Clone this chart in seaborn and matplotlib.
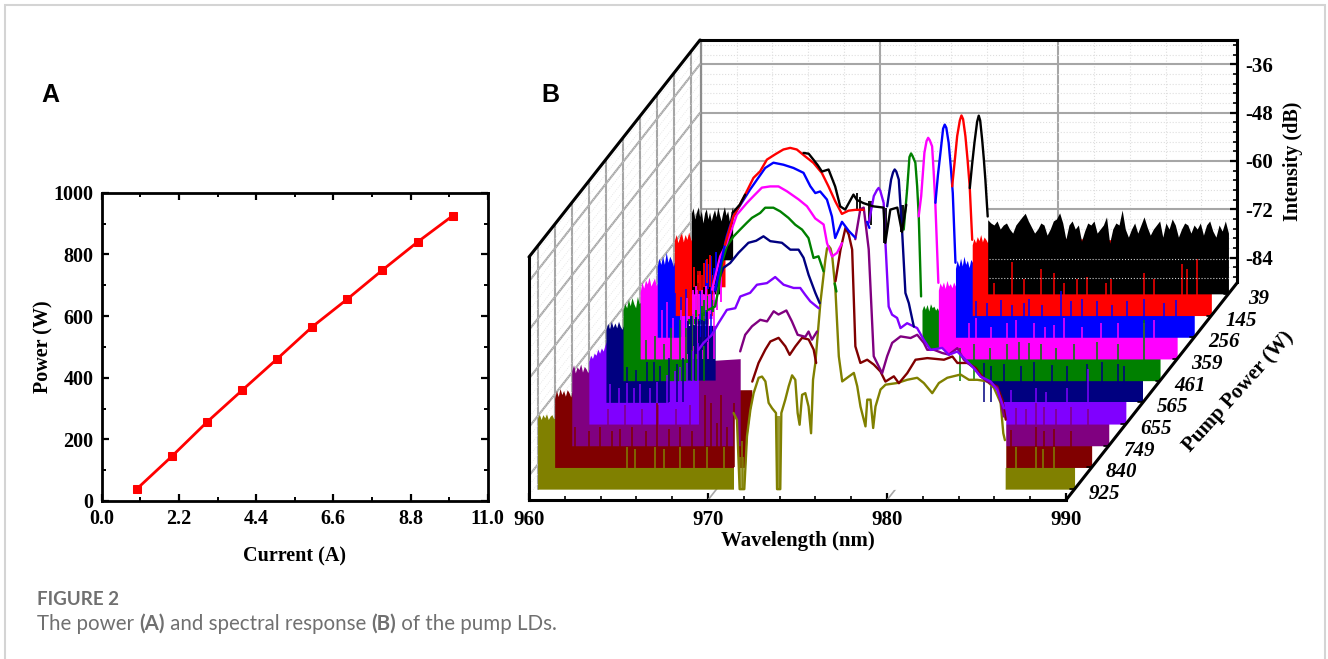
import numpy as np
import pandas as pd
import matplotlib
matplotlib.use('Agg')
import matplotlib.pyplot as plt
from matplotlib.patches import Rectangle
from matplotlib.ticker import MultipleLocator
import seaborn as sns

# panel A
current = [1, 2, 3, 4, 5, 6, 7, 8, 9, 10]
power = [39, 145, 256, 359, 461, 565, 655, 749, 840, 925]

# panel B, back to front. nan = line hidden behind the other traces
names = ['black', 'red', 'blue', 'magenta', 'green', 'navy', 'purple', 'dmag', 'dred', 'olive']
pump_labels = ['39', '145', '256', '359', '461', '565', '655', '749', '840', '925']
n = np.nan

black_wl = [962.3, 962.7, 963.0, n, 966.26, 966.55, 966.82, 967.05, 967.29, 967.66, 968.03, 968.31, 968.59, 969.05, 969.24, 969.61, 970.17, 970.73, 970.83, 971.11, 971.5, 971.76, 972.0, n, 975.55, 975.68, 975.81, 975.96, 976.05, 976.13, 976.24, 976.33, 976.42, 976.55]
black_db = [-70, -68, -65.5, n, -55.2, -55.4, -56.9, -58.2, -59.8, -59.3, -63.5, -68.4, -69.2, -65.5, -66.8, -67.6, -68.4, -68.7, -77.4, -69.2, -68.7, -74.7, -68, n, -63.9, -58, -52.7, -47.5, -46, -47.2, -51.9, -56.5, -61.8, -70.9]
red_wl = [962.83, 963.3, 963.67, 964.05, 964.42, 964.79, 965.17, 965.63, 966.09, 966.47, 966.84, 967.31, 967.77, 968.24, 968.61, 968.99, 969.36, 969.73, 970.11, 970.57, n, 975.52, 975.66, 975.8, 975.95, 976.04, 976.13, 976.26, 976.38, 976.5, 976.64]
red_db = [-72.5, -65.5, -62.6, -59.3, -56, -54.4, -51.5, -50.2, -49, -48.6, -49, -50.7, -52.3, -54.8, -58.1, -61.8, -64.9, -64.1, -63.9, -63.9, n, -58.1, -52, -45.7, -41.8, -40.6, -41.5, -45.7, -51.5, -58.1, -71.3]
blue_wl = [963.23, 963.88, 964.25, 964.72, 965.19, 965.65, 966.03, 966.49, 967.05, 967.61, 968.17, 968.55, 968.83, 969.1, 969.48, 969.76, 969.94, 970.32, 970.69, 971.06, n, 971.72, 971.85, n, 975.54, 975.68, 975.82, 975.97, 976.06, 976.15, 976.28, 976.4, 976.51, 976.66]
blue_db = [-78.3, -65.1, -60.1, -56.8, -53.5, -50.6, -48.2, -46.9, -47.4, -48.2, -49.4, -52.7, -54.4, -54, -56, -60.2, -65.5, -61.5, -63.7, -65.4, n, -61.5, -63, n, -56.8, -50, -44.5, -38.5, -37.5, -38.3, -42, -48, -54.4, -71.6]
magenta_wl = [964.02, 964.47, 964.84, 965.4, 965.96, 966.33, 966.8, 967.26, 967.73, 968.2, 968.85, 969.32, 969.78, 970.25, 970.44, 970.72, 971.0, 971.28, n, 975.56, 975.7, 975.88, 976.0, 976.09, 976.18, 976.31, 976.4, 976.49, 976.66]
magenta_db = [-72.9, -64.7, -61.4, -54.4, -51.5, -49.8, -47.7, -47.4, -47.4, -48.6, -50.6, -52.3, -55.3, -56.8, -61.4, -64.7, -63.8, -61.4, n, -54.8, -49.8, -39.1, -36.2, -35.4, -36, -37.5, -44, -51.5, -71.2]
green_wl = [964.77, 965.14, 965.33, 965.52, 965.8, 966.17, 966.54, 966.92, 967.2, 967.66, 967.94, 968.4, 968.78, 969.24, 969.62, 970.0, 970.36, 970.64, 970.92, 971.2, n, 971.82, 971.92, n, 975.68, 975.87, 976.0, 976.09, 976.18, 976.33, 976.43, 976.52, 976.65]
green_db = [-72.5, -71.7, -67.5, -60.9, -56.8, -54.4, -52.7, -51, -49.8, -48.6, -47.3, -47.3, -48.2, -49.8, -51.5, -52.7, -54.8, -59.7, -59.3, -63, n, -66, -68, n, -52.7, -42.8, -34.8, -33.9, -34.6, -36.2, -42, -49.4, -69.2]
navy_wl = [966.1, 966.28, 966.56, 966.94, 967.4, 967.96, 968.39, 968.8, 969.18, 969.83, 970.3, 970.76, 971.04, 971.32, 971.7, 971.94, n, 975.71, 975.93, 976.04, 976.13, 976.22, 976.36, 976.55, 976.73, 976.92, 977.2]
navy_db = [-62.6, -60.1, -56.8, -55.6, -53.1, -50.6, -50.1, -49, -50.2, -50.6, -52.3, -52.3, -54.3, -58.5, -63, -65.5, n, -41.6, -35, -33.2, -32.5, -33, -35, -48.1, -63, -65.5, -71.3]
purple_wl = [966.12, 966.4, 966.87, 967.24, 967.71, 968.18, 968.46, 969.01, 969.39, 969.95, 970.41, 970.88, 971.44, 971.81, 972.09, 972.37, 972.84, n, 975.64, 975.92, 976.1, 976.19, 976.28, 976.47, 976.57, 976.75, 976.94, 977.22, 977.41, 977.78, 978.34, 978.71, 979.09, 979.74, 980.11, 980.58, 980.95, 981.51, 981.89, 982.45, 982.82, 983.19]
purple_db = [-71.7, -70, -68, -65.1, -61.8, -61.4, -58.5, -57.6, -55.6, -55.2, -53.7, -55.6, -56.4, -56.4, -58.1, -59.7, -61.4, n, -40.3, -33.7, -32.2, -31.7, -32.4, -35.4, -45.3, -61, -63, -63.8, -66.3, -65.1, -66.3, -69.2, -71.7, -71.2, -72.9, -72.1, -73.7, -76.2, -78.3, -79.5, -81.6, -86.1]
dmag_wl = [969.41, 969.69, 970.07, 970.53, 970.91, 971.28, 971.55, 971.99, 972.3, 972.62, 973.05, 973.23, 973.42, 973.7, n, 975.84, 976.12, 976.31, 976.59, 976.87, 977.06, 977.34, 977.62, 977.9, 978.37, 978.93, 979.3, 979.67, 979.86, 980.23, 980.7, 981.07, 981.54, 981.91, 982.47, 982.84, 983.22, 983.78, 983.96, 984.15]
dmag_db = [-66.7, -62.6, -60.5, -58.9, -59.3, -56.8, -57.6, -56.6, -59.3, -62.6, -63.1, -61.8, -63.8, -61.8, n, -39, -31.6, -31.2, -41.5, -67.9, -69.6, -72.1, -67.9, -64.6, -63, -63.4, -62.6, -64.6, -66.3, -66.3, -67.1, -67.5, -65.9, -68.8, -70.8, -72.9, -74.1, -75.7, -79.1, -82.8]
dred_wl = [971.04, 971.39, 971.77, 972.05, 972.51, 972.89, 973.13, 973.45, 973.82, 974.19, 974.47, 974.61, n, 975.69, 975.97, 976.25, 976.43, 976.62, 976.8, 977.08, 977.46, 977.83, 978.2, 978.48, 978.95, 979.23, 979.7, 980.16, 980.82, 981.75, 982.22, 982.5, 983.06, 983.52, 983.8, 984.17, 984.73, 985.01, 985.2]
dred_db = [-68.8, -64.2, -60.9, -58.9, -58, -60.1, -62.2, -60.1, -58, -58.4, -60.9, -64.2, n, -44, -36.2, -30.8, -32.5, -36.2, -60.1, -64.2, -63.4, -64.6, -66.3, -68.8, -67.5, -69.2, -66.7, -63.4, -63, -63.4, -62.6, -64.2, -64.2, -65.4, -67.1, -68.8, -70, -73.3, -78.2]
olive_wl = [970.95, 971.14, 971.29, 971.55, 971.7, 971.89, 972.07, 972.35, 972.54, 972.73, 972.91, 973.1, 973.32, 973.38, 973.56, 973.62, 973.84, 974.03, 974.22, 974.4, 974.53, 974.64, 974.78, 974.96, 975.14, 975.28, 975.39, 975.52, 975.8, 976.08, 976.17, 976.27, 976.37, 976.46, 976.64, 976.83, 977.02, 977.39, 977.67, 977.86, 978.04, 978.32, 978.42, 978.6, 978.75, 978.88, 979.16, 979.44, 980.09, 980.65, 981.21, 981.58, 982.05, 982.42, 982.89, 983.63, 984.1, 984.57, 985.13, 985.5, 985.87, 986.02, 986.11]
olive_db = [-71.2, -72.9, -90, -90, -77, -70.4, -66.3, -62.5, -62.2, -63.4, -68.7, -70, -71.2, -90, -90, -71.2, -67.9, -64.6, -61.9, -63, -71.2, -74.1, -66.7, -66.3, -69.6, -76.2, -63, -58.8, -44, -33.3, -30.6, -30, -30.6, -32.4, -40.7, -57.2, -63.4, -62.2, -61.3, -64.6, -69.6, -74.5, -67.9, -67.9, -74.9, -69.6, -65.4, -64.2, -63.8, -63, -62.5, -63.8, -66.3, -63.8, -62.5, -61.7, -63, -63, -63.4, -65, -68.7, -76.2, -77.9]

# noise floor tops, first nm of each left and right block as read, then one tail level
black_left = [-70, -68.8, -71.5, -70, -68.5, -71, -69.6, -72.5, -70, -69, -71.5, -69.8, -72, -70.4, -69.2, -71, -68.6, -70.5, -72, -70, -68.5, -70.6, -69.5, -72, -70, -68.4]
red_left = [-71.5, -70, -72, -70.5, -69.6, -71.8, -70, -71.2, -69.4, -71, -72]
blue_left = [-72.5, -70.5, -72, -70, -72, -69, -71.5, -70, -71, -72.5, -70.5]
magenta_left = [-73.5, -71, -72.5, -70.5, -71.5, -69.8, -72, -71, -70, -72, -71]
green_left = [-72.5, -71, -72, -70, -71.5, -69.5, -71, -72, -69.2, -71, -70.5]
navy_left = [-72, -70.5, -71.8, -70, -71.5, -70.4, -71.6, -70, -71.2, -72, -70.6]
purple_left = [-74.5, -73, -73.8, -72.5, -73, -71.5, -72.5, -71.2, -72, -70.5, -69.5]
dmag_left = [-71.5, -70, -72, -70.5, -71.2, -69.8, -71.8, -70.4, -71, -72, -70.8]
dred_left = [-73, -71, -72.5, -70.5, -72, -71, -72.4, -70.8, -71.5, -72.6, -71]
olive_left = [-72.5, -71.5, -72.8, -71.6, -72.4, -71.4, -72.8, -72, -71.6, -72.6, -72.4]
left_tail = [-70, -71, -71, -71, -71, -71, -71, -68.5, -70.8, -72]
left_end = [962.3, 962.83, 963.23, 964.02, 964.77, 966.1, 966.12, 969.41, 971.04, 970.95]
lift_wl = [961.6, 961.04, 961.27, 962.62, 963.6, 963.47, 966.12, 969.41, 971.04, 970.95]
lift_db = [-81.6, -82.9, -78.3, -80, -76, -84.5, -90, -90, -90, -90]

black_right = [-71.7, -72.5, -73, -72, -74, -73, -72.5, -74, -75, -73, -72, -71, -70.1, -72, -73.5, -75, -74, -72.5, -73, -75.5, -74, -72, -71.5, -70, -72.5, -76.5, -73, -72, -74, -73, -77, -74.5, -72.5, -73, -72, -75, -74, -73, -71, -77.5, -74, -72.5, -73, -69.3, -74, -76, -74, -72.5, -75, -73, -71, -73.5, -75.5, -74, -73, -72, -76, -72.5, -74, -71.5, -73, -76, -74, -72.5, -73, -75, -73, -74, -72.5, -75.5, -73, -72, -74.5, -76, -73, -74.5, -72, -75]
red_right = [-72.5, -71, -72, -70.5, -71.5, -70, -71.8, -70.6, -71.2, -72, -70.4]
blue_right = [-73, -71, -72.5, -70.5, -72.4, -70, -72, -71, -72.8, -70.8, -71.5]
magenta_right = [-73, -71.2, -72.2, -71, -72.6, -70.6, -72, -71.4, -72.4, -71, -72]
green_right = [-72.6, -71.4, -72.4, -71.2, -72.8, -71, -72, -71.6, -72.6, -72, -73]
navy_right = [-72, -72, -72, -72, -72, -72]
purple_right = [-74, -74, -74, -74, -74, -74]
dmag_right = [-78, -77, -78, -77, -78, -77]
dred_right = [-76, -76, -76, -76, -76, -76]
olive_right = [-76, -75, -76, -75, -76, -75]
right_tail = [-74, -72, -72, -72, -72, -72, -73, -75, -75, -75]
right_start = [976.55, 976.64, 976.66, 976.66, 976.7, 981.4, 982.9, 984.15, 985.2, 986.11]
mask_from = [None, None, None, None, None, 975.71, 975.64, 970.07, 971.04, 970.95]

# narrow spikes of each trace that stand above its own band
black_spike_wl = []
black_spike_db = []
red_spike_wl = [977.84, 978.87, 979.52, 980.46, 981.2, 981.76, 982.51, 983.07, 984.09, 984.37, 986.24, 986.8, 988.38, 988.66, 989.22, 961.3, 961.55, 961.8, 962.1]
red_spike_db = [-82, -76.9, -81, -78.6, -79.4, -82, -81, -80.4, -82, -81, -79.6, -81, -77.2, -78.6, -76, -79, -80, -78, -80]
blue_spike_wl = [977.78, 978.43, 979.18, 979.8, 980.48, 980.76, 981.5, 982.54, 983.1, 983.75, 984.59, 985.4, 986.27, 987.2, 988.32, 988.97, 960.7, 961.0, 961.3, 961.6, 962.0, 962.4, 962.7, 963.0]
blue_spike_db = [-81, -81.5, -80.8, -82, -81.5, -80.5, -82, -78.7, -81, -80.5, -81, -82, -81, -80.6, -81.5, -80.8, -81, -79, -80, -78, -81, -78, -72, -74]
magenta_spike_wl = [978.36, 978.74, 979.6, 980.51, 980.98, 982.0, 982.6, 983.12, 983.68, 984.7, 985.73, 986.67, 988.16, 988.72, 961.2, 961.5, 961.85, 962.3, 962.6, 962.95, 963.2, 963.5, 963.8, 964.1]
magenta_spike_db = [-81, -80, -82, -81.2, -80.5, -81, -82, -81.5, -80, -82, -81, -81.2, -81, -80.5, -78, -76, -80, -78, -75, -74, -73, -74, -75, -76]
green_spike_wl = [978.8, 979.6, 980.5, 981.47, 982.12, 982.68, 983.34, 984.2, 985.2, 986.5, 987.63, 989.08, 960.9, 961.3, 961.8, 962.3, 962.7, 963.2, 963.5, 963.85, 964.1, 964.5]
green_spike_db = [-82, -81, -82, -81, -80.5, -80.7, -81, -82, -81, -80.5, -81, -75, -76, -80, -79, -81, -77, -75, -77, -74, -72, -73]
navy_spike_wl = [981.11, 981.49, 982.23, 983.17, 983.91, 984.94, 985.78, 986.9, 987.74, 988.58, 988.95, 960.75, 961.16, 961.7, 962.28, 962.7, 963.03, 963.5, 963.96, 964.33]
navy_spike_db = [-80.3, -81, -80.5, -81, -80, -80.8, -81, -80.5, -80, -80.6, -81, -80, -81.2, -82, -80, -80, -81, -79, -80.5, -79]
purple_spike_wl = [983.57, 984.97, 985.53, 986.74, 987.86, 961.2, 961.7, 962.11, 962.5, 962.86, 963.4, 963.79, 964.35, 964.8, 965.1, 965.47, 965.84, 966.12]
purple_spike_db = [-81.6, -81, -82, -81.2, -76.5, -80, -81, -79.8, -81, -80, -81, -79.5, -78, -77, -76, -75, -72, -70]
dmag_spike_wl = [984.81, 985.37, 985.93, 986.39, 987.05, 987.88, 988.82, 962.0, 963.0, 963.9, 964.8, 965.8, 966.6, 967.5, 968.2]
dmag_spike_db = [-80.7, -81, -79.5, -80.5, -81, -80.5, -81, -81, -80, -81, -80, -81, -80, -81, -78]
dred_spike_wl = [985.48, 986.88, 987.34, 987.9, 988.84, 961.14, 961.9, 962.54, 963.2, 963.66, 964.31, 965.1, 965.71, 966.4, 967.02, 967.7, 968.41, 968.75, 969.07, 969.3, 969.63, 970.0]
dred_spike_db = [-80.7, -80, -81, -80.5, -81, -80, -81, -79.9, -81, -80.5, -80, -81, -74.1, -80.5, -80, -81, -72, -74, -79, -72, -80, -74]
olive_spike_wl = [986.72, 987.84, 988.21, 988.86, 964.99, 965.45, 966.57, 967.04, 967.97, 968.72, 969.46, 970.4, 971.3, 971.4, 971.5, 973.4, 973.5]
olive_spike_db = [-79.5, -79.5, -80, -79.5, -79.5, -80, -79.5, -80, -79.5, -80, -79.5, -79.5, -82, -78, -82, -72, -72]

# parts of the left blocks and valleys where a trace floats off its baseline
black_mix_wl = [969.9, 970.04, 970.78, 970.88, 971.72, 971.82, 969.25, 969.4]
black_mix_low = [-72, -73, -77.4, -76, -74.7, -74, -69, -70]
black_mix_high = [-67, -67, -68.7, -68.7, -68, -68, -65, -66]
red_mix_wl = [961.1, 961.3, 961.45, 961.65, 961.8, 962.0]
red_mix_low = [-83, -82, -84, -83, -82, -83]
red_mix_high = [-78, -80, -79, -77, -76, -75]
blue_mix_wl = [962.7, 962.85, 963.0, 963.15, 963.3]
blue_mix_low = [-77, -78, -76, -77, -74]
blue_mix_high = [-71, -72, -70, -73, -69]
magenta_mix_wl = [962.95, 963.1, 963.3, 963.45, 963.7, 963.9, 964.1, 964.3, 964.5]
magenta_mix_low = [-79, -78, -79, -77, -78, -79, -77, -78, -76]
magenta_mix_high = [-73, -72, -74, -73, -72, -74, -72, -71, -69]
green_mix_wl = [964.1, 964.25, 964.4, 964.55, 964.7, 965.0, 965.1]
green_mix_low = [-74, -73, -75, -74, -73, -73, -72]
green_mix_high = [-69, -70, -68, -70, -69, -70, -70]
navy_mix_wl = [964.6, 964.75, 964.9, 965.05, 965.2, 965.35, 965.5, 965.65]
navy_mix_low = [-78, -77, -76, -78, -75, -77, -76, -75]
navy_mix_high = [-70, -68.8, -71, -69, -70, -68, -70, -66]

colors = ['#000000', '#ff0000', '#0000ff', '#ff00ff', '#008000', '#000080', '#8000ff', '#800080', '#800000', '#808000']

sns.set_style('white')
plt.rcParams['font.family'] = ['Liberation Serif', 'DejaVu Sans']
plt.rcParams['font.weight'] = 'bold'
plt.rcParams['axes.labelweight'] = 'bold'
plt.rcParams['axes.unicode_minus'] = False
plt.rcParams['text.color'] = 'black'
plt.rcParams['axes.labelcolor'] = 'black'
plt.rcParams['xtick.color'] = 'black'
plt.rcParams['ytick.color'] = 'black'

W, H = 1328, 659
fig = plt.figure(figsize=(W / 100, H / 100), dpi=100)
fig.add_artist(Rectangle((4.5 / W, -0.05), 1320.5 / W, 1.05 - 4.5 / H, transform=fig.transFigure,
                         fc='white', ec='#d4d4d4', lw=1.5, zorder=-1))


def box(left, top, right, bottom):
    return [left / W, 1 - bottom / H, (right - left) / W, (bottom - top) / H]


# A
ax_a = fig.add_axes(box(101.7, 192.7, 487.7, 501))
ax_a.patch.set_alpha(0)
sns.lineplot(x=current, y=power, ax=ax_a, color='#ff0000', lw=2, marker='s', ms=5.5, mec='#ff0000')
ax_a.set_xlim(0, 11)
ax_a.set_ylim(0, 1000)
ax_a.set_xticks(np.arange(0, 11.1, 2.2))
ax_a.set_xticklabels(['0.0', '2.2', '4.4', '6.6', '8.8', '11.0'])
ax_a.xaxis.set_minor_locator(MultipleLocator(1.1))
ax_a.yaxis.set_minor_locator(MultipleLocator(100))
ax_a.tick_params(which='major', direction='in', length=5, width=1.6, labelsize=14.5, top=True, right=True, bottom=True, left=True, pad=6)
ax_a.tick_params(which='minor', direction='in', length=3, width=1.4, top=True, right=True, bottom=True, left=True)
for s in ax_a.spines.values():
    s.set_linewidth(2)
    s.set_color('black')
ax_a.set_xlabel('Current (A)', fontsize=14.5, labelpad=12)
ax_a.set_ylabel('Power (W)', fontsize=14.5, labelpad=0)

# B: back wall is its own axes, the front plane carries the traces
ax_w = fig.add_axes(box(701, 40, 1237, 282), zorder=0)
ax_w.set_xlim(960, 990)
ax_w.set_ylim(-90, -30)
ax_w.patch.set_alpha(0)
ax_w.xaxis.set_major_locator(MultipleLocator(10))
ax_w.xaxis.set_minor_locator(MultipleLocator(2))
ax_w.yaxis.set_minor_locator(MultipleLocator(2.4))
ax_w.set_yticks([-84, -72, -60, -48, -36])
ax_w.grid(True, which='major', color='#a6a6a6', lw=1.5)
ax_w.grid(True, which='minor', color='#dedede', lw=0.8, ls=':')
ax_w.set_axisbelow(True)
ax_w.yaxis.tick_right()
ax_w.yaxis.set_label_position('right')
ax_w.tick_params(axis='x', which='both', length=0, labelbottom=False)
ax_w.tick_params(axis='y', which='major', direction='in', length=5, width=1.6, labelsize=15, right=True, left=False, pad=6)
ax_w.tick_params(axis='y', which='minor', direction='in', length=3, width=1.2, right=True, left=False)
ax_w.set_ylabel('Intensity (dB)', fontsize=14.5, labelpad=7)
for side in ['top', 'right']:
    ax_w.spines[side].set_linewidth(2.2)
    ax_w.spines[side].set_color('black')
ax_w.spines['left'].set_linewidth(1.6)
ax_w.spines['left'].set_color('#8c8c8c')
ax_w.spines['bottom'].set_visible(False)

ax = fig.add_axes(box(529, 257, 1066, 500), zorder=1)
ax.patch.set_alpha(0)
dx_full, dy_full = 171 / 17.9, 217 / (243 / 60)


def shift(depth):
    return dx_full * depth, dy_full * depth


# left wall and floor edge
for d in [0.05 + 0.1 * i for i in range(10)]:
    sx, sy = shift(d)
    ax.plot([960 + sx] * 2, [-90 + sy, -30 + sy], color='#a6a6a6', lw=1.5, clip_on=False, zorder=1)
for db in [-84, -72, -60, -48, -36]:
    ax.plot([960, 960 + dx_full], [db, db + dy_full], color='#a6a6a6', lw=1.5, clip_on=False, zorder=1)
for db in np.arange(-88.8, -30, 2.4):
    ax.plot([960, 960 + dx_full], [db, db + dy_full], color='#e2e2e2', lw=0.6, ls=':', clip_on=False, zorder=1)
for wl in [970, 980]:
    sx, sy = shift(0.06)
    ax.plot([wl, wl + sx], [-90, -90 + sy], color='#a6a6a6', lw=1.2, clip_on=False, zorder=1)
ax.plot([960, 960 + dx_full], [-30, -30 + dy_full], color='black', lw=2.2, clip_on=False, zorder=9)
ax.plot([990, 990 + dx_full], [-90, -90 + dy_full], color='black', lw=2.2, clip_on=False, zorder=9)

depths = [0.95 - 0.1 * i for i in range(10)]
g = globals()

# white under the traces hides the wall grid
for i in range(10):
    wl = np.array(g[names[i] + '_wl'])
    db = np.array(g[names[i] + '_db'])
    keep = ~np.isnan(wl)
    sx, sy = shift(depths[i])
    ax.fill_between(wl[keep] + sx, -90 + sy, db[keep] + sy, color='white', lw=0, clip_on=False, zorder=2)

# noise blocks: the rear trace is painted last
for i in range(9, -1, -1):
    sx, sy = shift(depths[i])
    top = np.array(g[names[i] + '_left'], float)
    if i == 0:
        x = np.linspace(960, left_end[i], len(top))
    else:
        lw_col = np.linspace(960, 961, len(top))
        x = np.r_[lw_col, lift_wl[i], lift_wl[i] + 0.001, left_end[i]]
        top = np.r_[top, [left_tail[i]] * 3]
    low = np.where(x > lift_wl[i], lift_db[i], -90.0)
    ax.fill_between(x + sx, low + sy, top + sy, color=colors[i], lw=0, clip_on=False, zorder=3)

    top = np.array(g[names[i] + '_right'], float)
    if i == 0:
        x = np.linspace(right_start[i], 990, len(top))
    else:
        x = np.r_[np.linspace(right_start[i], right_start[i] + 0.95, len(top)), 990]
        top = np.r_[top, right_tail[i]]
    ax.fill_between(x + sx, -90 + sy, top + sy, color=colors[i], lw=0, clip_on=False, zorder=3)

# front humps cover what is behind them
for i in range(10):
    if mask_from[i] is None:
        continue
    wl = np.array(g[names[i] + '_wl'])
    db = np.array(g[names[i] + '_db'])
    keep = ~np.isnan(wl) & (np.nan_to_num(wl) >= mask_from[i])
    sx, sy = shift(depths[i])
    ax.fill_between(wl[keep] + sx, -90 + sy, db[keep] + sy, color='white', lw=0, clip_on=False, zorder=4)

for i in range(10):
    sx, sy = shift(depths[i])
    sw = np.array(g[names[i] + '_spike_wl'], float)
    sd = np.array(g[names[i] + '_spike_db'], float)
    if len(sw):
        ax.vlines(sw + sx, -90 + sy, sd + sy, color=colors[i], lw=1.1, clip_on=False, zorder=5)

for i in [5, 4, 3, 2, 1, 0]:
    sx, sy = shift(depths[i])
    mw = np.array(g[names[i] + '_mix_wl'])
    ax.vlines(mw + sx, np.array(g[names[i] + '_mix_low']) + sy, np.array(g[names[i] + '_mix_high']) + sy,
              color=colors[i], lw=1.3, clip_on=False, zorder=5)

# traces
for i in range(9, -1, -1):
    sx, sy = shift(depths[i])
    wl = np.array(g[names[i] + '_wl'])
    db = np.array(g[names[i] + '_db'])
    df = pd.DataFrame({'wl': wl + sx, 'db': db + sy, 'seg': np.isnan(wl).cumsum()}).dropna()
    sns.lineplot(data=df, x='wl', y='db', units='seg', estimator=None, sort=False, ax=ax,
                 color=colors[i], lw=1.7, clip_on=False, zorder=6, legend=False)

# dotted grid shows through the black block
sx, sy = shift(1)
for db in [-84, -88.8]:
    ax.plot([976.6 + shift(0.95)[0], 990 + shift(0.95)[0]], [db + sy, db + sy], color='#d0d0d0', lw=0.8, ls=':', clip_on=False, zorder=7)

ax.set_xlim(960, 990)
ax.set_ylim(-90, -30)
ax.set_xticks([960, 970, 980, 990])
ax.xaxis.set_minor_locator(MultipleLocator(2))
ax.set_yticks([])
ax.tick_params(axis='x', which='major', direction='in', length=5, width=1.6, labelsize=15, pad=7, bottom=True)
ax.tick_params(axis='x', which='minor', direction='in', length=3, width=1.2, bottom=True)
ax.set_xlabel('Wavelength (nm)', fontsize=15, labelpad=1)
ax.set_ylabel('')
ax.spines['left'].set_linewidth(2.2)
ax.spines['bottom'].set_linewidth(2.2)
ax.spines['left'].set_color('black')
ax.spines['bottom'].set_color('black')
ax.spines['top'].set_visible(False)
ax.spines['right'].set_visible(False)

for i in range(10):
    sx, sy = shift(depths[i])
    ax.annotate(pump_labels[i], xy=(990 + sx, -90 + sy), xytext=(30, -5), textcoords='offset pixels',
                ha='center', va='center', fontsize=15, style='italic', annotation_clip=False)
    ax.plot([990 + sx - 0.25, 990 + sx], [-90 + sy, -90 + sy], color='black', lw=1.2, clip_on=False, zorder=9)
fig.text(1238 / W, 1 - 392 / H, 'Pump Power (W)', rotation=48, ha='center', va='center', fontsize=15)

# panel letters and caption
sans = ['Liberation Sans', 'DejaVu Sans']
fig.text(50 / W, 1 - 95 / H, 'A', family=sans, fontsize=18, ha='center', va='center', weight='bold')
fig.text(550 / W, 1 - 95 / H, 'B', family=sans, fontsize=18, ha='center', va='center', weight='bold')
cap = ['Lato', 'DejaVu Sans']
fig.text(37 / W, 1 - 605 / H, 'FIGURE 2', family=cap, fontsize=13.5, weight='bold', color='#707070')
renderer = fig.canvas.get_renderer()
x_pos = 37
for part, wt in [('The power ', 'normal'), ('(A)', 'bold'), (' and spectral response ', 'normal'), ('(B)', 'bold'), (' of the pump LDs.', 'normal')]:
    t = fig.text(x_pos / W, 1 - 630 / H, part.replace(' ', '\u00a0'), family=cap, fontsize=14.8, weight=wt, color='#707070')
    x_pos = t.get_window_extent(renderer).x1

fig.savefig('out.png', dpi=100)
